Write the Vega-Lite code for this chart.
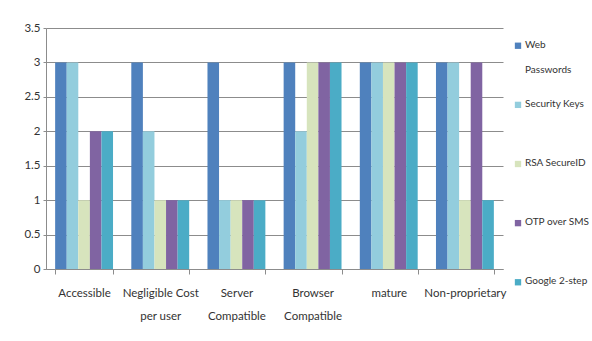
{
  "$schema": "https://vega.github.io/schema/vega-lite/v6.json",
  "padding": {"left": 23, "top": 22, "right": 0, "bottom": 0},
  "background": "white",
  "spacing": 5,
  "bounds": "flush",
  "datasets": {
    "scores": [
      {"criterion": "Accessible", "method": "Web Passwords", "score": 3},
      {"criterion": "Accessible", "method": "Security Keys", "score": 3},
      {"criterion": "Accessible", "method": "RSA SecureID", "score": 1},
      {"criterion": "Accessible", "method": "OTP over SMS", "score": 2},
      {"criterion": "Accessible", "method": "Google 2-step", "score": 2},
      {"criterion": "Negligible Cost per user", "method": "Web Passwords", "score": 3},
      {"criterion": "Negligible Cost per user", "method": "Security Keys", "score": 2},
      {"criterion": "Negligible Cost per user", "method": "RSA SecureID", "score": 1},
      {"criterion": "Negligible Cost per user", "method": "OTP over SMS", "score": 1},
      {"criterion": "Negligible Cost per user", "method": "Google 2-step", "score": 1},
      {"criterion": "Server Compatible", "method": "Web Passwords", "score": 3},
      {"criterion": "Server Compatible", "method": "Security Keys", "score": 1},
      {"criterion": "Server Compatible", "method": "RSA SecureID", "score": 1},
      {"criterion": "Server Compatible", "method": "OTP over SMS", "score": 1},
      {"criterion": "Server Compatible", "method": "Google 2-step", "score": 1},
      {"criterion": "Browser Compatible", "method": "Web Passwords", "score": 3},
      {"criterion": "Browser Compatible", "method": "Security Keys", "score": 2},
      {"criterion": "Browser Compatible", "method": "RSA SecureID", "score": 3},
      {"criterion": "Browser Compatible", "method": "OTP over SMS", "score": 3},
      {"criterion": "Browser Compatible", "method": "Google 2-step", "score": 3},
      {"criterion": "mature", "method": "Web Passwords", "score": 3},
      {"criterion": "mature", "method": "Security Keys", "score": 3},
      {"criterion": "mature", "method": "RSA SecureID", "score": 3},
      {"criterion": "mature", "method": "OTP over SMS", "score": 3},
      {"criterion": "mature", "method": "Google 2-step", "score": 3},
      {"criterion": "Non-proprietary", "method": "Web Passwords", "score": 3},
      {"criterion": "Non-proprietary", "method": "Security Keys", "score": 3},
      {"criterion": "Non-proprietary", "method": "RSA SecureID", "score": 1},
      {"criterion": "Non-proprietary", "method": "OTP over SMS", "score": 3},
      {"criterion": "Non-proprietary", "method": "Google 2-step", "score": 1}
    ],
    "methods": [
      {"method": "Web Passwords", "label": "Web\nPasswords"},
      {"method": "Security Keys", "label": "Security Keys"},
      {"method": "RSA SecureID", "label": "RSA SecureID"},
      {"method": "OTP over SMS", "label": "OTP over SMS"},
      {"method": "Google 2-step", "label": "Google 2-step"}
    ]
  },
  "hconcat": [
    {
      "width": 457,
      "height": 241,
      "data": {"name": "scores"},
      "mark": {"type": "bar"},
      "encoding": {
        "x": {
          "field": "criterion",
          "type": "nominal",
          "sort": null,
          "title": null,
          "scale": {"paddingInner": 0.24, "paddingOuter": 0.12},
          "axis": {
            "labelAngle": 0,
            "tickBand": "extent",
            "tickSize": 5,
            "labelPadding": 13,
            "labelExpr": "datum.label == 'Negligible Cost per user' ? ['Negligible Cost', 'per user'] : datum.label == 'Server Compatible' ? ['Server', 'Compatible'] : datum.label == 'Browser Compatible' ? ['Browser', 'Compatible'] : datum.label",
            "labelLineHeight": 23,
            "labelBaseline": "top"
          }
        },
        "xOffset": {
          "field": "method",
          "type": "nominal",
          "sort": ["Web Passwords", "Security Keys", "RSA SecureID", "OTP over SMS", "Google 2-step"],
          "scale": {"paddingInner": 0, "paddingOuter": 0}
        },
        "y": {
          "field": "score",
          "type": "quantitative",
          "title": null,
          "scale": {"domain": [0, 3.5], "nice": false},
          "axis": {"values": [0, 0.5, 1, 1.5, 2, 2.5, 3, 3.5], "format": "~g", "tickSize": 3, "labelPadding": 3}
        },
        "color": {
          "field": "method",
          "type": "nominal",
          "legend": null,
          "scale": {
            "domain": ["Web Passwords", "Security Keys", "RSA SecureID", "OTP over SMS", "Google 2-step"],
            "range": ["#4f81bd", "#93cddd", "#d7e4bd", "#8064a2", "#4bacc6"]
          }
        }
      }
    },
    {
      "width": 20,
      "height": 272,
      "data": {"name": "methods"},
      "encoding": {
        "y": {
          "field": "method",
          "type": "nominal",
          "sort": ["Web Passwords", "Security Keys", "RSA SecureID", "OTP over SMS", "Google 2-step"],
          "scale": {"type": "point", "padding": 0.3},
          "axis": null
        }
      },
      "layer": [
        {
          "mark": {"type": "point", "shape": "square", "filled": true, "size": 40, "opacity": 1, "strokeWidth": 0},
          "encoding": {
            "color": {"field": "method", "type": "nominal", "legend": null}
          }
        },
        {
          "mark": {
            "type": "text",
            "align": "left",
            "baseline": "top",
            "dx": 7,
            "dy": -6,
            "lineBreak": "\n",
            "lineHeight": 25,
            "font": "Lato",
            "fontSize": 10,
            "color": "#333333"
          },
          "encoding": {
            "text": {"field": "label", "type": "nominal"}
          }
        }
      ]
    }
  ],
  "config": {
    "font": "Lato",
    "view": {"stroke": null},
    "axis": {
      "labelFont": "Lato",
      "labelFontSize": 11.5,
      "labelColor": "#333333",
      "domainColor": "#8c8c8c",
      "tickColor": "#8c8c8c",
      "gridColor": "#8c8c8c",
      "gridWidth": 1
    },
    "axisX": {"grid": false}
  }
}
